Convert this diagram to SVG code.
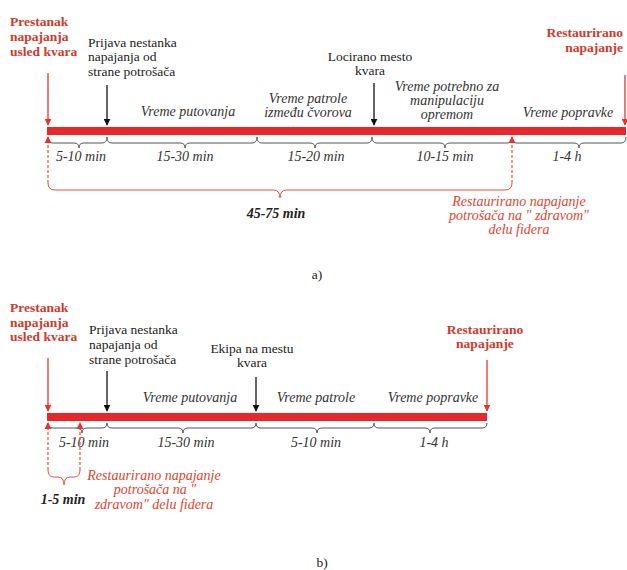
<svg xmlns="http://www.w3.org/2000/svg" width="627" height="570" viewBox="0 0 627 570">
<defs>
<marker id="ab" viewBox="0 0 10 10" refX="9" refY="5" markerWidth="7" markerHeight="7" orient="auto" markerUnits="userSpaceOnUse"><path d="M0,0 L10,5 L0,10 z" fill="#111"/></marker>
<marker id="ar" viewBox="0 0 10 10" refX="9" refY="5" markerWidth="7" markerHeight="7" orient="auto" markerUnits="userSpaceOnUse"><path d="M0,0 L10,5 L0,10 z" fill="#e8322c"/></marker>
</defs>
<style>
text{font-family:'Liberation Serif','Times New Roman',Times,serif}
.t{font-size:13.5px;fill:#222}
.bl{font-size:13.5px;font-weight:bold;fill:#cf3a2c}
.it{font-size:14px;font-style:italic;fill:#333}
.num{font-size:14px;font-style:italic;fill:#333}
.bi{font-size:14px;font-style:italic;font-weight:bold;fill:#222}
.ri{font-size:14px;font-style:italic;fill:#e0452f}
.bar{fill:#e8272a}
.ba{stroke:#111;stroke-width:1.3;fill:none;marker-end:url(#ab)}
.ra{stroke:#e8322c;stroke-width:1.3;fill:none;marker-end:url(#ar)}
.br{stroke:#555;stroke-width:1;fill:none}
.rb{stroke:#e8503c;stroke-width:1;fill:none}
.rd{stroke:#e8503c;stroke-width:1.2;fill:none;stroke-dasharray:3,2}
</style>

<!-- Diagram a -->
<g id="a-timeline"><rect class="bar" x="47" y="127" width="579" height="8"/></g>
<g id="a-prestanak"><text class="bl" x="10" y="26">Prestanak</text><text class="bl" x="10" y="41">napajanja</text><text class="bl" x="10" y="56">usled kvara</text></g>
<g id="a-prijava"><text class="t" x="88" y="47">Prijava nestanka</text><text class="t" x="88" y="61">napajanja od</text><text class="t" x="88" y="76">strane potrošača</text></g>
<g id="a-locirano"><text class="t" x="370" y="61" text-anchor="middle">Locirano mesto</text><text class="t" x="370" y="75" text-anchor="middle">kvara</text></g>
<g id="a-restaurirano"><text class="bl" x="623" y="37" text-anchor="end">Restaurirano</text><text class="bl" x="623" y="52" text-anchor="end">napajanje</text></g>
<g id="a-phases">
<text class="it" x="188" y="116" text-anchor="middle">Vreme putovanja</text>
<text class="it" x="308" y="103" text-anchor="middle">Vreme patrole</text>
<text class="it" x="308" y="117" text-anchor="middle">između čvorova</text>
<text class="it" x="447" y="91" text-anchor="middle">Vreme potrebno za</text>
<text class="it" x="447" y="105" text-anchor="middle">manipulaciju</text>
<text class="it" x="447" y="119" text-anchor="middle">opremom</text>
<text class="it" x="568" y="117" text-anchor="middle">Vreme popravke</text>
</g>
<g id="a-durations">
<text class="num" x="81" y="161" text-anchor="middle">5-10 min</text>
<text class="num" x="185" y="161" text-anchor="middle">15-30 min</text>
<text class="num" x="316" y="161" text-anchor="middle">15-20 min</text>
<text class="num" x="445" y="161" text-anchor="middle">10-15 min</text>
<text class="num" x="567" y="161" text-anchor="middle">1-4 h</text>
<text class="bi" x="276" y="218" text-anchor="middle">45-75 min</text>
</g>
<g id="a-zdravom"><text class="ri" x="519" y="206" text-anchor="middle">Restaurirano napajanje</text><text class="ri" x="519" y="220" text-anchor="middle">potrošača na " zdravom"</text><text class="ri" x="519" y="234" text-anchor="middle">delu fidera</text></g>
<text class="t" x="317" y="279" text-anchor="middle">a)</text>

<g id="a-connectors">
<line class="ra" x1="48" y1="73" x2="48" y2="125"/>
<line class="ba" x1="107" y1="85" x2="107" y2="125"/>
<line class="ba" x1="374" y1="83" x2="374" y2="125"/>
<line class="ra" x1="625" y1="75" x2="625" y2="125"/>
<path class="br" d="M48 137 Q48 143 53 143 L74 143 Q79 143 79 148 Q79 143 84 143 L102 143 Q107 143 107 137"/>
<path class="br" d="M107 137 Q107 143 112 143 L180 143 Q185 143 185 148 Q185 143 190 143 L252 143 Q257 143 257 137"/>
<path class="br" d="M257 137 Q257 143 262 143 L310 143 Q315 143 315 148 Q315 143 320 143 L367 143 Q372 143 372 137"/>
<path class="br" d="M372 137 Q372 143 377 143 L440 143 Q445 143 445 148 Q445 143 450 143 L507 143 Q512 143 512 137"/>
<path class="br" d="M512 137 Q512 143 517 143 L574 143 Q579 143 579 148 Q579 143 584 143 L621 143 Q626 143 626 137"/>
<line class="rd" x1="48" y1="183" x2="48" y2="141"/>
<line class="rd" x1="512" y1="183" x2="512" y2="141"/>
<path d="M44.5 143 L48 136 L51.5 143 z" fill="#e8322c"/>
<path d="M508.5 143 L512 136 L515.5 143 z" fill="#e8322c"/>
<path class="rb" d="M48 183 Q48 190 55 190 L273 190 Q280 190 280 198 Q280 190 287 190 L505 190 Q512 190 512 183"/>
</g>

<!-- Diagram b -->
<g id="b-timeline"><rect class="bar" x="47" y="413" width="440" height="8"/></g>
<g id="b-prestanak"><text class="bl" x="10" y="312">Prestanak</text><text class="bl" x="10" y="327">napajanja</text><text class="bl" x="10" y="341">usled kvara</text></g>
<g id="b-prijava"><text class="t" x="89" y="334">Prijava nestanka</text><text class="t" x="89" y="349">napajanja od</text><text class="t" x="89" y="364">strane potrošača</text></g>
<g id="b-ekipa"><text class="t" x="252" y="353" text-anchor="middle">Ekipa na mestu</text><text class="t" x="252" y="367" text-anchor="middle">kvara</text></g>
<g id="b-restaurirano"><text class="bl" x="485" y="334" text-anchor="middle">Restaurirano</text><text class="bl" x="485" y="348" text-anchor="middle">napajanje</text></g>
<g id="b-phases">
<text class="it" x="190" y="402" text-anchor="middle">Vreme putovanja</text>
<text class="it" x="316" y="402" text-anchor="middle">Vreme patrole</text>
<text class="it" x="433" y="402" text-anchor="middle">Vreme popravke</text>
</g>
<g id="b-durations">
<text class="num" x="84" y="447" text-anchor="middle">5-10 min</text>
<text class="num" x="186" y="447" text-anchor="middle">15-30 min</text>
<text class="num" x="316" y="447" text-anchor="middle">5-10 min</text>
<text class="num" x="434" y="447" text-anchor="middle">1-4 h</text>
<text class="bi" x="63" y="504" text-anchor="middle">1-5 min</text>
</g>
<g id="b-zdravom"><text class="ri" x="154" y="480" text-anchor="middle">Restaurirano napajanje</text><text class="ri" x="155" y="494" text-anchor="middle">potrošača na "</text><text class="ri" x="154" y="509" text-anchor="middle">zdravom" delu fidera</text></g>
<text class="t" x="322" y="567" text-anchor="middle">b)</text>

<g id="b-connectors">
<line class="ra" x1="48" y1="358" x2="48" y2="411"/>
<line class="ba" x1="107" y1="371" x2="107" y2="411"/>
<line class="ba" x1="256" y1="377" x2="256" y2="411"/>
<line class="ra" x1="487" y1="360" x2="487" y2="411"/>
<path class="br" d="M48 423 Q48 428 53 428 L77 428 Q82 428 82 433 Q82 428 87 428 L102 428 Q107 428 107 423"/>
<path class="br" d="M107 423 Q107 428 112 428 L178 428 Q183 428 183 433 Q183 428 188 428 L251 428 Q256 428 256 423"/>
<path class="br" d="M256 423 Q256 428 261 428 L312 428 Q317 428 317 433 Q317 428 322 428 L369 428 Q374 428 374 423"/>
<path class="br" d="M374 423 Q374 428 379 428 L425 428 Q430 428 430 433 Q430 428 435 428 L482 428 Q487 428 487 423"/>
<line class="rd" x1="48" y1="470" x2="48" y2="427"/>
<line class="rd" x1="80" y1="470" x2="80" y2="427"/>
<path d="M44.5 429 L48 422 L51.5 429 z" fill="#e8322c"/>
<path d="M76.5 429 L80 422 L83.5 429 z" fill="#e8322c"/>
<path class="rb" d="M48 470 Q48 477 54 477 L58 477 Q64 477 64 485 Q64 477 70 477 L74 477 Q80 477 80 470"/>
</g>
</svg>
